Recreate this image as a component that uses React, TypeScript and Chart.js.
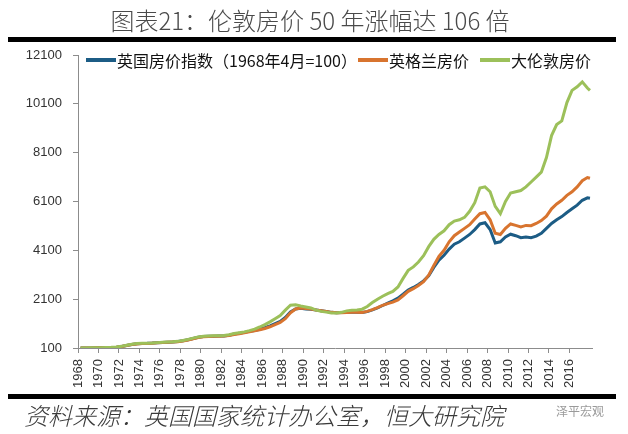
import React, { useEffect, useRef } from "react";
import { Chart, registerables } from "chart.js";

Chart.register(...registerables);

const titleText = "图表21：伦敦房价 50 年涨幅达 106 倍";
const sourceText = "资料来源：英国国家统计办公室，恒大研究院";
const watermarkText = "泽平宏观";

const seriesNames = ["英国房价指数（1968年4月=100）", "英格兰房价", "大伦敦房价"];
const seriesColors = ["#1C5C85", "#D8742F", "#9CC05A"];

const years = [
  1968.25, 1968.75, 1969.25, 1969.75, 1970.25, 1970.75, 1971.25, 1971.75, 1972.25, 1972.75,
  1973.25, 1973.75, 1974.25, 1974.75, 1975.25, 1975.75, 1976.25, 1976.75, 1977.25, 1977.75,
  1978.25, 1978.75, 1979.25, 1979.75, 1980.25, 1980.75, 1981.25, 1981.75, 1982.25, 1982.75,
  1983.25, 1983.75, 1984.25, 1984.75, 1985.25, 1985.75, 1986.25, 1986.75, 1987.25, 1987.75,
  1988.25, 1988.75, 1989.25, 1989.75, 1990.25, 1990.75, 1991.25, 1991.75, 1992.25, 1992.75,
  1993.25, 1993.75, 1994.25, 1994.75, 1995.25, 1995.75, 1996.25, 1996.75, 1997.25, 1997.75,
  1998.25, 1998.75, 1999.25, 1999.75, 2000.25, 2000.75, 2001.25, 2001.75, 2002.25, 2002.75,
  2003.25, 2003.75, 2004.25, 2004.75, 2005.25, 2005.75, 2006.25, 2006.75, 2007.25, 2007.75,
  2008.25, 2008.75, 2009.25, 2009.75, 2010.25, 2010.75, 2011.25, 2011.75, 2012.25, 2012.75,
  2013.25, 2013.75, 2014.25, 2014.75, 2015.25, 2015.75, 2016.25, 2016.75, 2017.25, 2017.75,
  2018.0,
];

const ukIndex = [
  100, 102, 105, 108, 110, 115, 122, 135, 160, 205,
  245, 270, 285, 290, 300, 315, 330, 340, 350, 365,
  395, 440, 490, 540, 570, 580, 585, 590, 595, 620,
  670, 700, 740, 780, 820, 870, 930, 1010, 1100, 1190,
  1350, 1580, 1700, 1730, 1700, 1690, 1660, 1630, 1600, 1560,
  1540, 1550, 1560, 1570, 1560, 1550, 1590, 1660, 1740, 1840,
  1940, 2030, 2140, 2300, 2470, 2580, 2700, 2850, 3060, 3400,
  3700, 3900, 4150, 4350, 4450, 4600, 4750, 4950, 5180, 5230,
  4950, 4400, 4450, 4650, 4760, 4700, 4620, 4650, 4620, 4680,
  4800, 5000, 5200, 5350, 5480, 5650, 5800, 5950, 6150, 6250,
  6230,
];

const englandPrice = [
  100, 102, 104, 107, 110, 114, 121, 133, 158, 200,
  240, 265, 280, 287, 297, 310, 325, 336, 346, 360,
  388, 430, 480, 530, 560, 572, 578, 583, 588, 610,
  655, 685, 725, 765, 805, 850, 900, 970, 1060, 1150,
  1300, 1540, 1700, 1740, 1720, 1700, 1660, 1630, 1600, 1560,
  1540, 1545, 1555, 1565, 1560, 1555, 1600, 1670, 1750, 1850,
  1920, 1980, 2070, 2240, 2420, 2530, 2660, 2820, 3080, 3480,
  3850, 4100, 4450, 4700, 4850, 5000, 5150, 5380, 5600, 5650,
  5350, 4800, 4750, 5000, 5180, 5120, 5060, 5120, 5110, 5200,
  5320, 5500, 5800, 6000, 6150, 6350, 6500, 6700, 6950, 7080,
  7050,
];

const londonPrice = [
  100, 103, 106, 109, 112, 118, 126, 140, 168, 215,
  255, 280, 292, 296, 305, 320, 335, 345, 356, 372,
  405, 452, 505, 555, 585, 595, 600, 605, 612, 640,
  690, 725, 760, 810, 870, 960, 1060, 1170, 1300, 1430,
  1650, 1850, 1870, 1820, 1780, 1740, 1650, 1600, 1570, 1530,
  1530, 1560, 1620, 1650, 1660, 1690, 1800, 1960, 2100, 2220,
  2330, 2420, 2600, 2950, 3280, 3420, 3620, 3880, 4250, 4550,
  4750, 4900, 5150, 5300, 5350, 5450, 5700, 6050, 6650, 6700,
  6500, 5900, 5600, 6100, 6450, 6500, 6550, 6700, 6900, 7100,
  7300, 7900, 8800, 9250, 9400, 10150, 10650, 10800, 11000, 10750,
  10650,
];

const yMin = 100;
const yMax = 12100;
const yStep = 2000;
const xMin = 1968;
const xMax = 2018.2;
const xStep = 2;
const lastXLabel = 2016;

const seriesValues = [ukIndex, englandPrice, londonPrice];

const legendLefts = [86, 358, 480];

export default function App() {
  const canvasRef = useRef<HTMLCanvasElement | null>(null);

  useEffect(() => {
    const canvas = canvasRef.current;
    if (!canvas) return;
    const chart = new Chart(canvas, {
      type: "line",
      data: {
        datasets: seriesNames.map((name, i) => ({
          label: name,
          data: years.map((x, j) => ({ x, y: seriesValues[i][j] })),
          borderColor: seriesColors[i],
          backgroundColor: seriesColors[i],
          borderWidth: 3,
          pointRadius: 0,
          tension: 0,
          order: 3 - i,
        })),
      },
      options: {
        animation: false,
        responsive: false,
        maintainAspectRatio: false,
        layout: { padding: { top: 55, right: 36, bottom: 40, left: 0 } },
        plugins: {
          legend: { display: false },
          title: { display: false },
          tooltip: { enabled: false },
        },
        scales: {
          x: {
            type: "linear",
            min: xMin,
            max: xMax,
            afterFit: (scale: any) => {
              scale.height = 46;
            },
            border: { display: true, color: "#8c8c8c", width: 1 },
            grid: {
              display: true,
              drawOnChartArea: false,
              drawTicks: true,
              tickLength: 5,
              color: "#8c8c8c",
            },
            ticks: {
              stepSize: xStep,
              includeBounds: false,
              autoSkip: false,
              maxRotation: 90,
              minRotation: 90,
              padding: 6,
              color: "#333",
              font: { family: "Liberation Sans", size: 13 },
              callback: (v: any) => (Number(v) <= lastXLabel ? String(v) : null),
            },
          },
          y: {
            type: "linear",
            min: yMin,
            max: yMax,
            afterFit: (scale: any) => {
              scale.width = 78;
            },
            border: { display: true, color: "#8c8c8c", width: 1 },
            grid: {
              display: true,
              drawOnChartArea: false,
              drawTicks: true,
              tickLength: 5,
              color: "#8c8c8c",
            },
            ticks: {
              stepSize: yStep,
              padding: 11,
              color: "#333",
              font: { family: "Liberation Sans", size: 13 },
              callback: (v: any) => String(v),
            },
          },
        },
      },
    });
    return () => chart.destroy();
  }, []);

  return (
    <div
      style={{
        position: "fixed",
        left: 0,
        top: 0,
        width: 628,
        height: 434,
        background: "#fff",
        overflow: "hidden",
        fontFamily: "'Noto Sans CJK SC', sans-serif",
      }}
    >
      <canvas ref={canvasRef} width={628} height={434} style={{ position: "absolute", left: 0, top: 0 }} />
      <div
        style={{
          position: "absolute",
          left: 0,
          top: 4,
          width: 620,
          textAlign: "center",
          fontSize: 24,
          fontWeight: 300,
          lineHeight: "32px",
          color: "#4a4a4a",
          whiteSpace: "nowrap",
        }}
      >
        {titleText}
      </div>
      <div style={{ position: "absolute", left: 8, top: 37, width: 608, height: 5, background: "#000" }} />
      {seriesNames.map((name, i) => (
        <div
          key={name}
          style={{
            position: "absolute",
            left: legendLefts[i],
            top: 49,
            height: 22,
            display: "flex",
            alignItems: "center",
            whiteSpace: "nowrap",
            fontSize: 16,
            color: "#111",
          }}
        >
          <span style={{ display: "inline-block", width: 30, height: 4, background: seriesColors[i], marginRight: 1 }} />
          <span>{name}</span>
        </div>
      ))}
      <div style={{ position: "absolute", left: 8, top: 394, width: 608, height: 5, background: "#000" }} />
      <div
        style={{
          position: "absolute",
          left: 24,
          top: 400,
          fontSize: 24,
          fontWeight: 300,
          lineHeight: "30px",
          fontStyle: "italic",
          color: "#3a3a3a",
          whiteSpace: "nowrap",
        }}
      >
        {sourceText}
      </div>
      <div
        style={{
          position: "absolute",
          left: 556,
          top: 402,
          fontSize: 12,
          color: "#9a9a9a",
          whiteSpace: "nowrap",
        }}
      >
        {watermarkText}
      </div>
    </div>
  );
}
